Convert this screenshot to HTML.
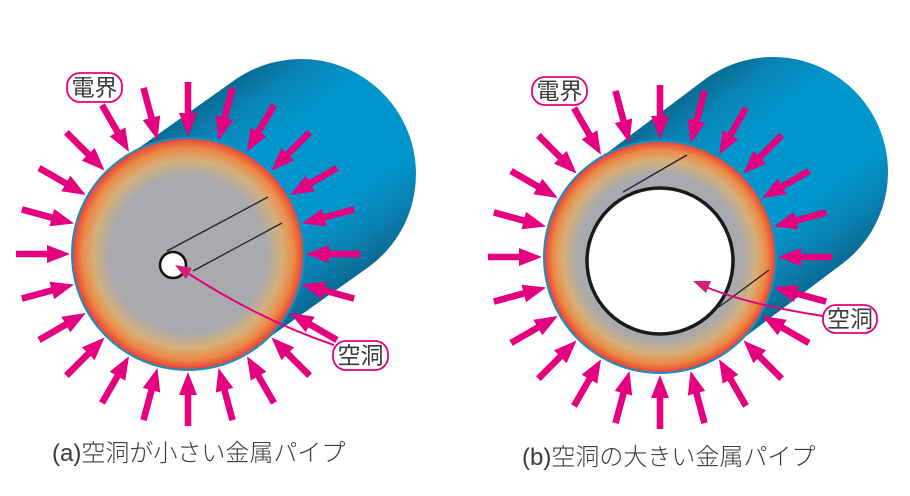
<!DOCTYPE html>
<html><head><meta charset="utf-8"><style>
html,body{margin:0;padding:0;background:#fff;}
svg{display:block;}
text{font-family:"Liberation Sans","Noto Sans CJK JP",sans-serif;fill:#3a3a3a;}
</style></head><body>
<svg id="s" width="910" height="496" viewBox="0 0 910 496" xmlns="http://www.w3.org/2000/svg">
<defs>
<radialGradient id="faceA" cx="0.5" cy="0.5" r="0.5">
<stop offset="0" stop-color="#a9aaae"/><stop offset="0.68" stop-color="#a9aaae"/>
<stop offset="0.82" stop-color="#d6b07a"/><stop offset="0.92" stop-color="#ec8a45"/><stop offset="1" stop-color="#e8463a"/>
</radialGradient>
<radialGradient id="faceB" cx="0.5" cy="0.5" r="0.5">
<stop offset="0" stop-color="#a9aaae"/><stop offset="0.72" stop-color="#a9aaae"/>
<stop offset="0.84" stop-color="#d6b07a"/><stop offset="0.93" stop-color="#ec8a45"/><stop offset="1" stop-color="#e8463a"/>
</radialGradient>
</defs>
<g id="g"></g>
<text x="52" y="461" font-size="24" font-weight="300">(a)空洞が小さい金属パイプ</text>
<text x="522" y="465" font-size="24" font-weight="300">(b)空洞の大きい金属パイプ</text>
</svg>
<script>
var NS="http://www.w3.org/2000/svg",G=document.getElementById("g"),S=document.getElementById("s");
function el(t,a,p){var e=document.createElementNS(NS,t);for(var k in a)e.setAttribute(k,a[k]);(p||G).appendChild(e);return e;}
function fig(cx,cy,r,dx,dy,id){
 var L=Math.hypot(dx,dy),px=-dy/L,py=dx/L; if(py<0){px=-px;py=-py;}
 var gid="cyl"+id;
 var lg=el("linearGradient",{id:gid,gradientUnits:"userSpaceOnUse",x1:cx-px*r,y1:cy-py*r,x2:cx+px*r,y2:cy+py*r},S.querySelector("defs"));
 [["0","#0a6b94"],["0.12","#0a82b4"],["0.3","#0096cb"],["0.7","#0096cb"],["0.88","#0a7fb0"],["1","#0a6a92"]].forEach(function(s){el("stop",{offset:s[0],"stop-color":s[1]},lg);});
 var bx=cx+dx,by=cy+dy;
 el("path",{d:"M"+(cx-px*r)+" "+(cy-py*r)+" L"+(bx-px*r)+" "+(by-py*r)+" A"+r+" "+r+" 0 0 1 "+(bx+px*r)+" "+(by+py*r)+" L"+(cx+px*r)+" "+(cy+py*r)+" Z",fill:"url(#"+gid+")"});
 el("circle",{cx:cx,cy:cy,r:r+2,fill:"#1a8ec0"});
 el("circle",{cx:cx,cy:cy,r:r,fill:"url(#face"+id+")"});
 for(var i=0;i<24;i++){
  var a=i*15*Math.PI/180,c=Math.cos(a),s=Math.sin(a);
  var tx=cx+(r+3)*c,ty=cy+(r+3)*s,ang=a*180/Math.PI+180;
  var g=el("g",{transform:"translate("+tx+","+ty+") rotate("+ang+")"});
  el("polygon",{points:"0,0 -23,-9 -23,-3.3 -54,-3.3 -54,3.3 -23,3.3 -23,9",fill:"#e4007f"},g);
 }
}
fig(188,254,115,113,-80,"A");
fig(660,257,115,113,-85,"B");
el("line",{x1:167,y1:251,x2:268,y2:197,stroke:"#222","stroke-width":1.3});
el("line",{x1:193,y1:271,x2:282,y2:223,stroke:"#222","stroke-width":1.3});
el("circle",{cx:173,cy:265,r:13,fill:"#fff",stroke:"#111","stroke-width":2.5});
el("line",{x1:623,y1:192,x2:687,y2:155,stroke:"#222","stroke-width":1.3});
el("line",{x1:719,y1:307,x2:769,y2:270,stroke:"#222","stroke-width":1.3});
el("circle",{cx:660,cy:261,r:73,fill:"#fff",stroke:"#1a1a1a","stroke-width":3.5});
el("path",{d:"M334 345 Q260 320 186 272",fill:"none",stroke:"#e4007f","stroke-width":2});
el("polygon",{points:"175,265 192,268 186,279",fill:"#d1207a"});
el("path",{d:"M823 316 Q750 305 706 287",fill:"none",stroke:"#e4007f","stroke-width":2});
el("polygon",{points:"693,281 711,281 706,293",fill:"#d1207a"});
function lab(x,y,w,h,t){el("rect",{x:x,y:y,width:w,height:h,rx:13,fill:"#fff",stroke:"#e4007f","stroke-width":1.8});var e=el("text",{x:x+w/2,y:y+h/2+8,"font-size":23,"text-anchor":"middle"});e.textContent=t;}
lab(67,73,55,29,"電界");
lab(333,341,55,29,"空洞");
lab(532,77,55,28,"電界");
lab(823,305,54,28,"空洞");
</script>
</body></html>
